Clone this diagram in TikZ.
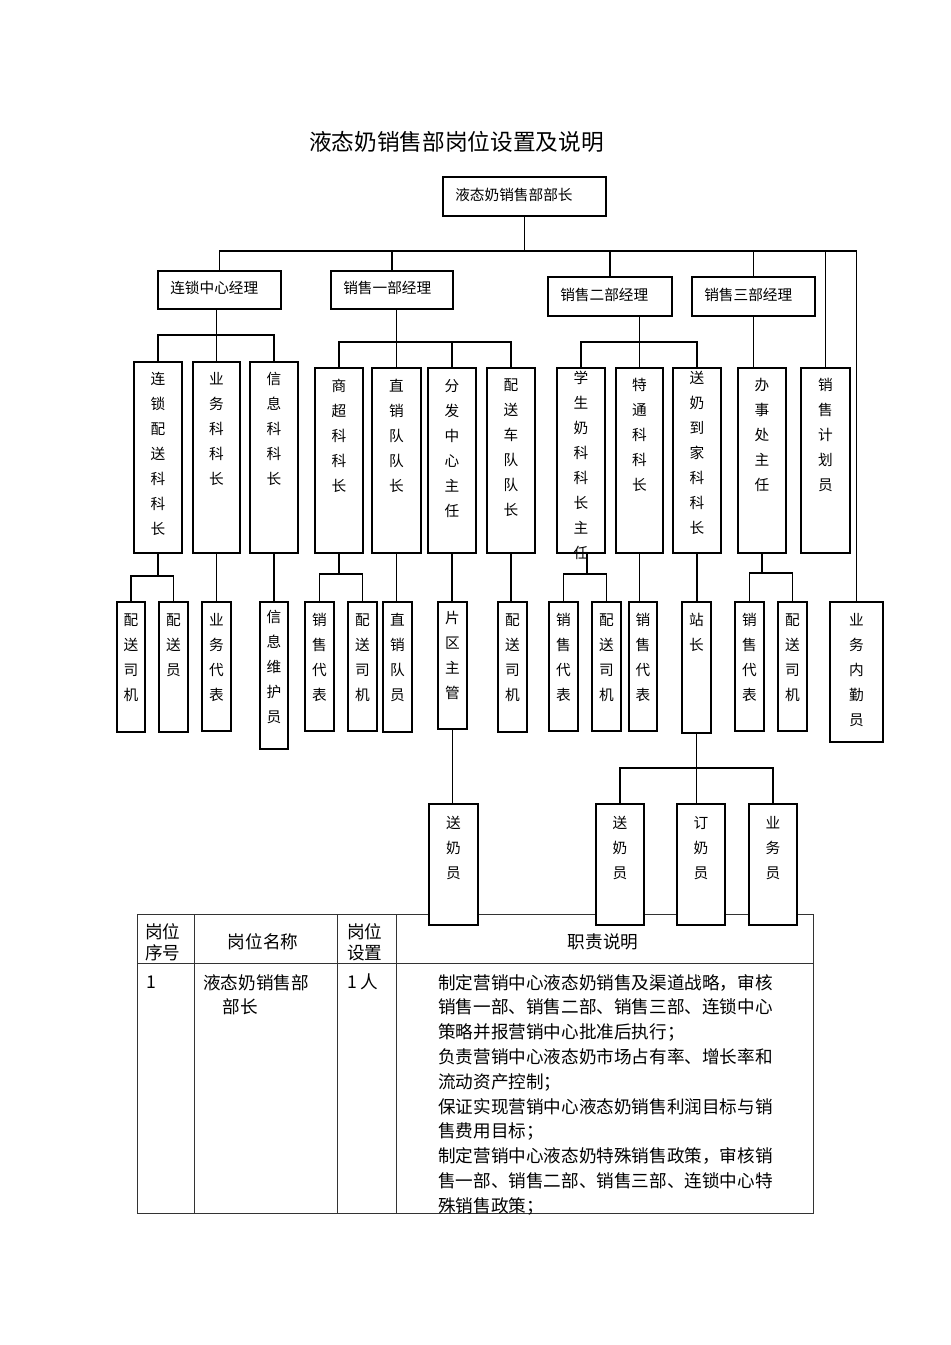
\documentclass[tikz,border=0pt]{standalone}
\usepackage{fontspec}
\newfontfamily\cjk{Noto Sans CJK SC}
\usetikzlibrary{calc}
\pgfdeclarelayer{bg}
\pgfsetlayers{bg,main}
\tikzset{
 boxst/.style={draw=black, line width=1.3pt, fill=white, inner sep=0pt, outer sep=0pt},
 vtext/.style={font=\cjk\fontsize{11}{18.75}\selectfont, align=center, inner sep=0pt},
 htext/.style={font=\cjk\fontsize{11}{13}\selectfont, inner sep=0pt, anchor=west},
 conn/.style={draw=black, line width=1.05pt},
 tline/.style={draw=black!80, line width=0.75pt},
 ttext/.style={font=\cjk\fontsize{13.2}{15.75}\selectfont, inner sep=0pt},
 dtext/.style={font=\cjk\fontsize{13.2}{18.6}\selectfont, inner sep=0pt, align=left},
}
\newcommand{\obox}[7]{%
 \pgfmathsetmacro\obw{(#4-#2)*0.75}%
 \pgfmathsetmacro\obh{(#5-#3)*0.75}%
 \pgfmathsetmacro\oty{#6-7}%
 \node[boxst, minimum width=\obw pt, minimum height=\obh pt, anchor=north west] (#1) at (#2,#3) {};
 \node[vtext, anchor=north] (#1t) at (#1.north |- 0,\oty) {#7};
}
\newcommand{\mgr}[6]{%
 \pgfmathsetmacro\obw{(#4-#2)*0.75}%
 \pgfmathsetmacro\obh{(#5-#3)*0.75}%
 \node[boxst, minimum width=\obw pt, minimum height=\obh pt, anchor=north west] (#1) at (#2,#3) {};
 \node[htext] (#1t) at ([xshift=9pt,yshift=1.5pt]#1.west) {#6};
}
\begin{document}
\begin{tikzpicture}[x=0.75pt,y=-0.75pt]
\useasboundingbox (0,0) rectangle (950,1345);
\node[font=\cjk\fontsize{17}{20}\selectfont, inner sep=0pt] (title) at (456.5,142) {液态奶销售部岗位设置及说明};

% managers
\mgr{top}{443}{177}{606}{216}{液态奶销售部部长}
\mgr{lszx}{158}{271}{281}{309}{连锁中心经理}
\mgr{xs1}{331}{271}{453}{309}{销售一部经理}
\mgr{xs2}{548}{277}{672}{316}{销售二部经理}
\mgr{xs3}{692}{277}{815}{316}{销售三部经理}

% level 2
\obox{c11}{134}{362}{182}{553}{379}{连\\锁\\配\\送\\科\\科\\长}
\obox{c12}{193}{362}{240}{553}{379}{业\\务\\科\\科\\长}
\obox{c13}{250}{362}{298}{553}{379}{信\\息\\科\\科\\长}
\obox{c21}{315}{368}{363}{553}{386}{商\\超\\科\\科\\长}
\obox{c22}{372}{368}{421}{553}{386}{直\\销\\队\\队\\长}
\obox{c23}{428}{368}{476}{553}{386}{分\\发\\中\\心\\主\\任}
\obox{c24}{487}{368}{535}{553}{385}{配\\送\\车\\队\\队\\长}
\obox{c31}{557}{368}{605}{553}{378}{学\\生\\奶\\科\\科\\长\\主\\任}
\obox{c32}{616}{368}{663}{553}{385}{特\\通\\科\\科\\长}
\obox{c33}{673}{368}{721}{553}{378}{送\\奶\\到\\家\\科\\科\\长}
\obox{c41}{738}{368}{786}{553}{385}{办\\事\\处\\主\\任}
\obox{jhy}{801}{368}{850}{553}{385}{销\\售\\计\\划\\员}

% level 3
\obox{d1}{117}{602}{145}{732}{620}{配\\送\\司\\机}
\obox{d2}{159}{602}{188}{732}{620}{配\\送\\员}
\obox{d3}{202}{602}{231}{731}{620}{业\\务\\代\\表}
\obox{d4}{260}{602}{288}{749}{617}{信\\息\\维\\护\\员}
\obox{d5}{305}{602}{334}{731}{620}{销\\售\\代\\表}
\obox{d6}{348}{602}{377}{731}{620}{配\\送\\司\\机}
\obox{d7}{383}{602}{412}{732}{620}{直\\销\\队\\员}
\obox{d8}{438}{602}{467}{729}{618}{片\\区\\主\\管}
\obox{d9}{498}{602}{527}{732}{620}{配\\送\\司\\机}
\obox{d10}{549}{602}{578}{731}{620}{销\\售\\代\\表}
\obox{d11}{592}{602}{621}{731}{620}{配\\送\\司\\机}
\obox{d12}{629}{602}{657}{731}{620}{销\\售\\代\\表}
\obox{d13}{682}{602}{711}{733}{620}{站\\长}
\obox{d14}{735}{602}{764}{731}{620}{销\\售\\代\\表}
\obox{d15}{778}{602}{807}{731}{620}{配\\送\\司\\机}
\obox{ywnq}{830}{602}{883}{742}{620}{业\\务\\内\\勤\\员}

% level 4
\obox{e1}{429}{804}{478}{925}{823}{送\\奶\\员}
\obox{e2}{596}{804}{644}{925}{823}{送\\奶\\员}
\obox{e3}{677}{804}{725}{925}{823}{订\\奶\\员}
\obox{e4}{749}{804}{797}{925}{823}{业\\务\\员}

% table text
\node[ttext, align=left, anchor=west] (h1) at (145,942.5) {岗位\\序号};
\node[ttext] (h2) at (263,942) {岗位名称};
\node[ttext, align=left, anchor=west] (h3) at (347,942.5) {岗位\\设置};
\node[ttext] (h4) at (603,942) {职责说明};
\node[ttext, anchor=west] (r1) at (146,982) {1};
\node[dtext, anchor=north west] (r2) at (203,974) {液态奶销售部\\\hspace*{1.1em}部长};
\node[ttext, anchor=west] (r3) at (347,982) {1 人};
\node[dtext, anchor=north west] (r4) at (438,974) {制定营销中心液态奶销售及渠道战略，审核\\销售一部、销售二部、销售三部、连锁中心\\策略并报营销中心批准后执行；\\负责营销中心液态奶市场占有率、增长率和\\流动资产控制；\\保证实现营销中心液态奶销售利润目标与销\\售费用目标；\\制定营销中心液态奶特殊销售政策，审核销\\售一部、销售二部、销售三部、连锁中心特\\殊销售政策；};

\begin{pgfonlayer}{bg}
% table grid
\draw[tline] (137,914) rectangle (813,1213);
\draw[tline] (137,963) -- (813,963);
\draw[tline] (194,914) -- (194,1213);
\draw[tline] (337,914) -- (337,1213);
\draw[tline] (396,914) -- (396,1213);

\coordinate (bus) at (0,251);
\coordinate (l2a) at (0,335);
\coordinate (l2b) at (0,342);
\coordinate (l3a) at (0,576);
\coordinate (l3b) at (0,574);
\coordinate (l3c) at (0,573);
\coordinate (l4) at (0,768);
\coordinate (c31d) at ([xshift=4.5pt]c31.south);

\draw[conn] (top.south) -- (top.south |- bus);
\draw[conn] (lszx.north) |- (ywnq.north |- bus) -- (ywnq.north);
\draw[conn] (xs1.north) -- (xs1.north |- bus);
\draw[conn] (xs2.north) -- (xs2.north |- bus);
\draw[conn] (xs3.north) -- (xs3.north |- bus);
\draw[conn] (jhy.north) -- (jhy.north |- bus);

\draw[conn] (lszx.south -| c12.north) -- (c12.north);
\draw[conn] (c11.north) |- (c13.north |- l2a) -- (c13.north);
\draw[conn] (xs1.south -| c22.north) -- (c22.north);
\draw[conn] (c21.north) |- (c24.north |- l2b) -- (c24.north);
\draw[conn] (c23.north) -- (c23.north |- l2b);
\draw[conn] (xs2.south -| c32.north) -- (c32.north);
\draw[conn] (c31.north) |- (c33.north |- l2b) -- (c33.north);
\draw[conn] (xs3.south) -- (xs3.south |- c41.north);

\draw[conn] (c11.south) -- (c11.south |- l3a);
\draw[conn] (d1.north) |- (d2.north |- l3a) -- (d2.north);
\draw[conn] (c12.south) -- (c12.south |- d3.north);
\draw[conn] (c13.south) -- (c13.south |- d4.north);
\draw[conn] (c21.south) -- (c21.south |- l3b);
\draw[conn] (d5.north) |- (d6.north |- l3b) -- (d6.north);
\draw[conn] (c22.south) -- (c22.south |- d7.north);
\draw[conn] (c23.south) -- (c23.south |- d8.north);
\draw[conn] (c24.south) -- (c24.south |- d9.north);
\draw[conn] (c31d) -- (c31d |- l3b);
\draw[conn] (d10.north) |- (d11.north |- l3b) -- (d11.north);
\draw[conn] (c32.south) -- (c32.south |- d12.north);
\draw[conn] (c33.south) -- (c33.south |- d13.north);
\draw[conn] (c41.south) -- (c41.south |- l3c);
\draw[conn] (d14.north) |- (d15.north |- l3c) -- (d15.north);

\draw[conn] (d8.south) -- (d8.south |- e1.north);
\draw[conn] (d13.south) -- (d13.south |- e3.north);
\draw[conn] (e2.north) |- (e4.north |- l4) -- (e4.north);
\end{pgfonlayer}
\end{tikzpicture}
\end{document}
